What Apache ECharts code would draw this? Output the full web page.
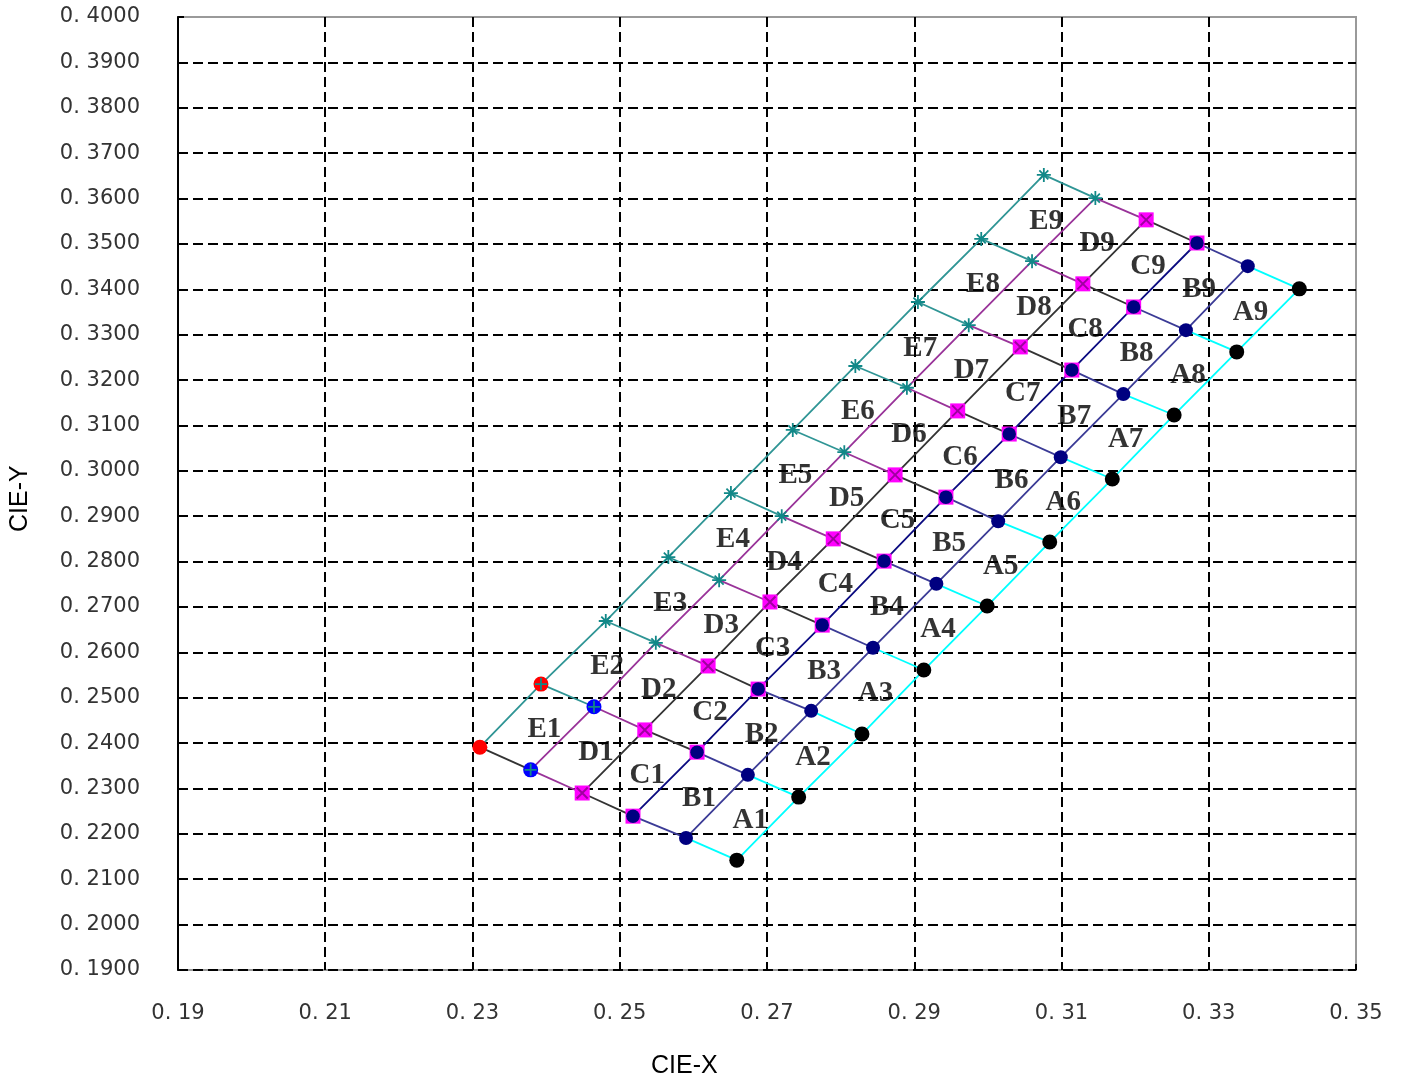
<!DOCTYPE html>
<html><head><meta charset="utf-8">
<script src="https://cdn.jsdelivr.net/npm/echarts@6/dist/echarts.min.js"></script>
<style>html,body{margin:0;padding:0;background:#fff}#c{width:1404px;height:1086px}</style>
</head><body><div id="c"></div>
<script>
// Boundary lines of the bin grid (CIE x, y), bottom-right row first
const line0 = [[0.2659,0.2142],[0.2743,0.2281],[0.2829,0.2420],[0.2913,0.2561],[0.2999,0.2702],[0.3084,0.2843],[0.3169,0.2982],[0.3253,0.3123],[0.3338,0.3262],[0.3423,0.3401]];
const line1 = [[0.2590,0.2191],[0.2674,0.2330],[0.2760,0.2471],[0.2844,0.2610],[0.2930,0.2751],[0.3014,0.2889],[0.3099,0.3030],[0.3184,0.3169],[0.3269,0.3310],[0.3353,0.3451]];
const line2 = [[0.2518,0.2239],[0.2605,0.2380],[0.2688,0.2519],[0.2775,0.2660],[0.2859,0.2801],[0.2943,0.2942],[0.3029,0.3081],[0.3114,0.3222],[0.3198,0.3361],[0.3284,0.3502]];
const line3 = [[0.2449,0.2290],[0.2534,0.2429],[0.2620,0.2570],[0.2704,0.2711],[0.2790,0.2850],[0.2874,0.2991],[0.2959,0.3132],[0.3044,0.3273],[0.3129,0.3412],[0.3215,0.3553]];
const line4 = [[0.2379,0.2341],[0.2465,0.2480],[0.2549,0.2621],[0.2635,0.2759],[0.2720,0.2900],[0.2805,0.3041],[0.2890,0.3183],[0.2974,0.3321],[0.3060,0.3462],[0.3146,0.3601]];
const line5 = [[0.2310,0.2391],[0.2393,0.2530],[0.2481,0.2669],[0.2566,0.2810],[0.2651,0.2951],[0.2735,0.3090],[0.2820,0.3231],[0.2905,0.3372],[0.2991,0.3511],[0.3076,0.3652]];
const cellRows = ['A','B','C','D','E'];
const cellCols = ['1','2','3','4','5','6','7','8','9'];
const xAxisRange = [0.19, 0.35, 0.02];
const yAxisRange = [0.19, 0.40, 0.01];

const lines = [line0, line1, line2, line3, line4, line5];
const rowColors = ['#00ffff', '#3b3b96', '#0a0a80', '#333333', '#993399', '#2f9595'];
const crossColors = ['#00ffff', '#3b3b96', '#333333', '#993399', '#2f9595'];
const TEAL = '#118888';

const series = [];
lines.forEach((ln, i) => {
  series.push({type:'line', data: ln, showSymbol:false, symbol:'none', lineStyle:{color: rowColors[i], width:1.8}, z:2, silent:true});
});
for (let r = 0; r < 5; r++) {
  const segs = lines[r].map((p, k) => ({coords:[p, lines[r+1][k]], lineStyle:{color: (r === 4 && k === 0) ? '#333333' : crossColors[r]}}));
  series.push({type:'lines', coordinateSystem:'cartesian2d', polyline:false, data: segs, lineStyle:{width:1.8, opacity:1}, z:2, silent:true});
}
const PLUS = 'path://M5,0L5,10M0,5L10,5';
const XMARK = 'path://M0,0L10,10M10,0L0,10';
const STAR = 'path://M5,0L5,10M0,5L10,5M1.8,1.8L8.2,8.2M8.2,1.8L1.8,8.2';
function sc(data, symbol, size, style, z) {
  return {type:'scatter', data, symbol, symbolSize:size, itemStyle: Object.assign({opacity:1}, style), z: z || 5, silent:true};
}
series.push(sc(line0, 'circle', 15, {color:'#000000'}));
series.push(sc(line1, 'circle', 14, {color:'#000080'}));
series.push(sc(line2, 'rect', 15, {color:'#ff00ff'}));
series.push(sc(line2, 'circle', 13.5, {color:'#000080'}, 6));
series.push(sc(line3, 'rect', 15, {color:'#ff00ff'}));
series.push(sc(line3, XMARK, 11, {color:'rgba(0,0,0,0)', borderColor:'#a000a0', borderWidth:2}, 6));
series.push(sc(line4.slice(0,2), 'circle', 15, {color:'#0000ff'}));
series.push(sc(line4.slice(0,2), PLUS, 12, {color:'rgba(0,0,0,0)', borderColor:TEAL, borderWidth:1.8}, 6));
series.push(sc(line4.slice(2), STAR, 14, {color:'rgba(0,0,0,0)', borderColor:TEAL, borderWidth:1.8}, 6));
series.push(sc(line5.slice(0,2), 'circle', 15, {color:'#ff0000'}));
series.push(sc(line5.slice(1,2), PLUS, 12, {color:'rgba(0,0,0,0)', borderColor:TEAL, borderWidth:1.8}, 6));
series.push(sc(line5.slice(2), STAR, 14, {color:'rgba(0,0,0,0)', borderColor:TEAL, borderWidth:1.8}, 6));

// cell labels at cell centres
const labelData = [];
cellRows.forEach((rn, r) => {
  cellCols.forEach((cn, c) => {
    const pts = [lines[r][c], lines[r][c+1], lines[r+1][c], lines[r+1][c+1]];
    const cx = pts.reduce((s,p)=>s+p[0],0)/4, cy = pts.reduce((s,p)=>s+p[1],0)/4;
    labelData.push({name: rn + cn, value:[cx, cy]});
  });
});
series.push({type:'scatter', data: labelData, symbolSize:1, itemStyle:{color:'rgba(0,0,0,0)'}, z:8, silent:true,
  label:{show:true, formatter:'{b}', position:'inside', offset:[8,3], color:'#000',
    fontFamily:'"Liberation Serif", "DejaVu Serif", serif', fontWeight:'bold', fontSize:29}});

const chart = echarts.init(document.getElementById('c'));
chart.setOption({
  animation:false,
  backgroundColor:'#ffffff',
  grid:{left:178, right:48, top:17, bottom:116, show:true, borderColor:'#9a9a9a', borderWidth:2, containLabel:false},
  xAxis:{type:'value', min:xAxisRange[0], max:xAxisRange[1], interval:xAxisRange[2],
    axisLine:{show:false}, axisTick:{show:true, inside:true, length:6, lineStyle:{color:'#000', width:2}},
    axisLabel:{margin:33, color:'#333', fontSize:21, fontFamily:'"DejaVu Sans", sans-serif', formatter:v=>v.toFixed(2).replace('.', '. ')},
    splitLine:{show:true, showMinLine:false, showMaxLine:false, lineStyle:{color:'#000', width:2, type:[10,5]}}},
  yAxis:{type:'value', min:yAxisRange[0], max:yAxisRange[1], interval:yAxisRange[2],
    axisLine:{show:true, lineStyle:{color:'#000', width:2}}, axisTick:{show:true, inside:true, length:6, lineStyle:{color:'#000', width:2}},
    axisLabel:{margin:38, color:'#333', fontSize:21, fontFamily:'"DejaVu Sans", sans-serif', formatter:v=>v.toFixed(4).replace('.', '. ')},
    splitLine:{show:true, showMinLine:true, showMaxLine:false, lineStyle:{color:'#000', width:2, type:[10,5]}}},
  graphic:[
    {type:'text', left:651, top:1054, style:{text:'CIE-X', fill:'#000', font:'25px "Liberation Sans", Arial, sans-serif'}},
    {type:'text', x:8, y:532, rotation:Math.PI/2, style:{text:'CIE-Y', fill:'#000', font:'25px "Liberation Sans", Arial, sans-serif'}}
  ],
  series
});
</script></body></html>
